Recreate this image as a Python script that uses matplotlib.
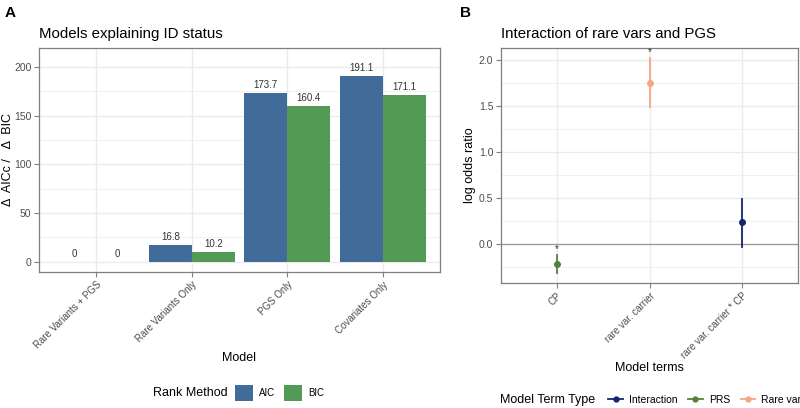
import matplotlib.pyplot as plt
from matplotlib.patches import Patch
from matplotlib.lines import Line2D
import numpy as np

plt.rcParams["font.family"] = ["Liberation Sans", "DejaVu Sans"]

# panel A data
models = ["Rare Variants + PGS", "Rare Variants Only", "PGS Only", "Covariates Only"]
aic_delta = [0, 16.8, 173.7, 191.1]
bic_delta = [0, 10.2, 160.4, 171.1]

# panel B data
terms = ["CP", "rare var. carrier", "rare var. carrier * CP"]
term_type = ["PRS", "Rare var", "Interaction"]
estimate = [-0.21, 1.75, 0.24]
ci_low = [-0.31, 1.49, -0.03]
ci_high = [-0.12, 2.02, 0.49]
signif = ["*", "*", ""]

BLUE = "#416c99"
GREEN = "#529a55"
type_colors = {"Interaction": "#13256b", "PRS": "#52803f", "Rare var": "#f5a585"}

GRID = "#ebebeb"
BORDER = "#7f7f7f"
TICK = "#4d4d4d"


def style_axes(ax):
    ax.set_facecolor("white")
    for s in ax.spines.values():
        s.set_color(BORDER)
        s.set_linewidth(0.9)
    ax.tick_params(axis="both", colors=BORDER, labelcolor=TICK, labelsize=7.5, length=3.5, width=0.8, pad=2)
    ax.set_axisbelow(True)


fig = plt.figure(figsize=(8, 4.08), dpi=100)

# ---- Panel A ----
axA = fig.add_axes([39 / 800, 1 - 272 / 408, 401 / 800, 224 / 408])
style_axes(axA)
x = np.arange(1, len(models) + 1)
w = 0.45
axA.bar(x - w / 2, aic_delta, width=w, color=BLUE, zorder=2)
axA.bar(x + w / 2, bic_delta, width=w, color=GREEN, zorder=2)
for xi, a, b in zip(x, aic_delta, bic_delta):
    axA.text(xi - w / 2, a + 3, f"{a:g}", ha="center", va="bottom", fontsize=7, color="#333333")
    axA.text(xi + w / 2, b + 3, f"{b:g}", ha="center", va="bottom", fontsize=7, color="#333333")
axA.set_xlim(0.4, 4.6)
axA.set_ylim(-10.5, 219.5)
axA.set_yticks([0, 50, 100, 150, 200])
axA.set_yticks([25, 75, 125, 175], minor=True)
axA.tick_params(axis="y", which="minor", length=0)
axA.set_xticks(x)
axA.set_xticklabels(models, rotation=45, ha="right", rotation_mode="anchor", fontsize=7)
axA.grid(True, which="major", color=GRID, linewidth=1.0)
axA.grid(True, which="minor", axis="y", color=GRID, linewidth=0.5)
axA.set_xlabel("Model", fontsize=9, labelpad=1)
axA.set_ylabel("Δ  AICc /   Δ  BIC", fontsize=9, labelpad=1)
axA.yaxis.set_label_coords(-0.063, 0.5)
axA.set_title("Models explaining ID status", loc="left", fontsize=10.8, pad=7)

# ---- Panel B ----
axB = fig.add_axes([501 / 800, 1 - 283 / 408, 297 / 800, 235 / 408])
style_axes(axB)
xb = np.arange(1, len(terms) + 1)
axB.axhline(0, color="#999999", linewidth=0.9, zorder=1)
for xi, est, lo, hi, t, s in zip(xb, estimate, ci_low, ci_high, term_type, signif):
    c = type_colors[t]
    axB.plot([xi, xi], [lo, hi], color=c, linewidth=1.3, zorder=3)
    axB.plot(xi, est, "o", color=c, markersize=4, zorder=4)
    if s:
        axB.text(xi, hi + 0.01, s, ha="center", va="bottom", fontsize=7, color="#333333")
axB.set_xlim(0.4, 3.6)
axB.set_ylim(-0.42, 2.13)
axB.set_yticks([0.0, 0.5, 1.0, 1.5, 2.0])
axB.set_yticklabels(["0.0", "0.5", "1.0", "1.5", "2.0"])
axB.set_yticks([-0.25, 0.25, 0.75, 1.25, 1.75], minor=True)
axB.tick_params(axis="y", which="minor", length=0)
axB.set_xticks(xb)
axB.set_xticklabels(terms, rotation=45, ha="right", rotation_mode="anchor", fontsize=7)
axB.grid(True, which="major", color=GRID, linewidth=1.0)
axB.grid(True, which="minor", axis="y", color=GRID, linewidth=0.5)
axB.set_xlabel("Model terms", fontsize=9, labelpad=1)
axB.set_ylabel("log odds ratio", fontsize=9, labelpad=2)
axB.set_title("Interaction of rare vars and PGS", loc="left", fontsize=10.8, pad=7)

# panel tags
fig.text(5 / 800, 1 - 13 / 408, "A", fontsize=11, fontweight="bold", va="center")
fig.text(460 / 800, 1 - 13 / 408, "B", fontsize=11, fontweight="bold", va="center")

# legend A
fig.text(153 / 800, 1 - 393 / 408, "Rank Method", fontsize=9, va="center")
handlesA = [Patch(facecolor=BLUE, label="AIC"), Patch(facecolor=GREEN, label="BIC")]
fig.legend(handles=handlesA, loc="center left", bbox_to_anchor=(226 / 800, 1 - 393 / 408),
           ncol=2, frameon=False, fontsize=7, handlelength=1.9, handleheight=2.0,
           columnspacing=0.9, handletextpad=0.6)

# legend B
fig.text(500 / 800, 1 - 400 / 408, "Model Term Type", fontsize=9, va="center")
handlesB = [Line2D([0], [0], color=type_colors[k], marker="o", markersize=3.5, linewidth=1.3, label=k)
            for k in ["Interaction", "PRS", "Rare var"]]
fig.legend(handles=handlesB, loc="center left", bbox_to_anchor=(599 / 800, 1 - 400 / 408),
           ncol=3, frameon=False, fontsize=7.5, handlelength=1.4,
           columnspacing=1.0, handletextpad=0.6)

fig.savefig("out.png", dpi=100, facecolor="white")
